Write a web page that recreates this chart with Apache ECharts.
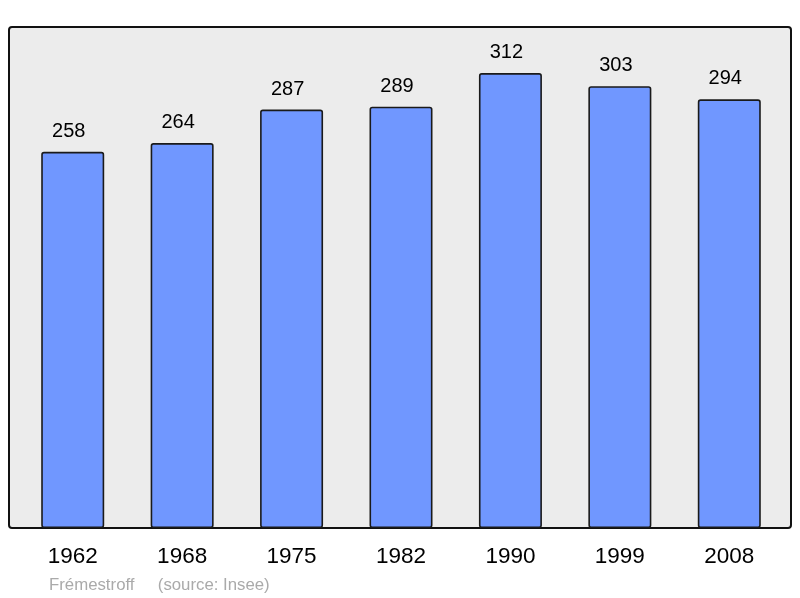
<!DOCTYPE html>
<html><head><meta charset="utf-8">
<script src="https://cdn.jsdelivr.net/npm/echarts@6/dist/echarts.min.js"></script>
<style>html,body{margin:0;padding:0;background:#fff;}#c{width:800px;height:598px;}</style>
</head><body><div id="c"></div>
<script>
const years = ['1962','1968','1975','1982','1990','1999','2008'];
const population = [258,264,287,289,312,303,294];
const footer = 'Frémestroff     (source: Insee)';

const chart = echarts.init(document.getElementById('c'));
chart.setOption({
  animation: false,
  backgroundColor: '#ffffff',
  graphic: [
    { type: 'rect', z: -10, shape: { x: 9, y: 27, width: 782, height: 501, r: 3 },
      style: { fill: '#ececec', stroke: '#111', lineWidth: 2 } },
    { type: 'text', left: 49, top: 576.5,
      style: { text: footer, fill: '#aaaaaa', font: '16.8px "Liberation Sans", Arial, sans-serif' } }
  ],
  grid: { left: 18, right: 16, top: 17.7, bottom: 70 },
  xAxis: {
    type: 'category', data: years,
    axisLine: { show: false }, axisTick: { show: false },
    axisLabel: { margin: 17.5, fontSize: 22.5, color: '#000', fontFamily: '"Liberation Sans", Arial, sans-serif' }
  },
  yAxis: { type: 'value', min: 0, max: 350, show: false, splitLine: { show: false } },
  series: [{
    type: 'bar', data: population, barWidth: 63,
    itemStyle: { color: '#7097ff', borderColor: '#1a1a1a', borderWidth: 1.6, borderRadius: 2 },
    label: { show: true, position: 'top', distance: 10.5, offset: [-4, 0], fontSize: 20, color: '#000',
      fontFamily: '"Liberation Sans", Arial, sans-serif' }
  }]
});
</script></body></html>
